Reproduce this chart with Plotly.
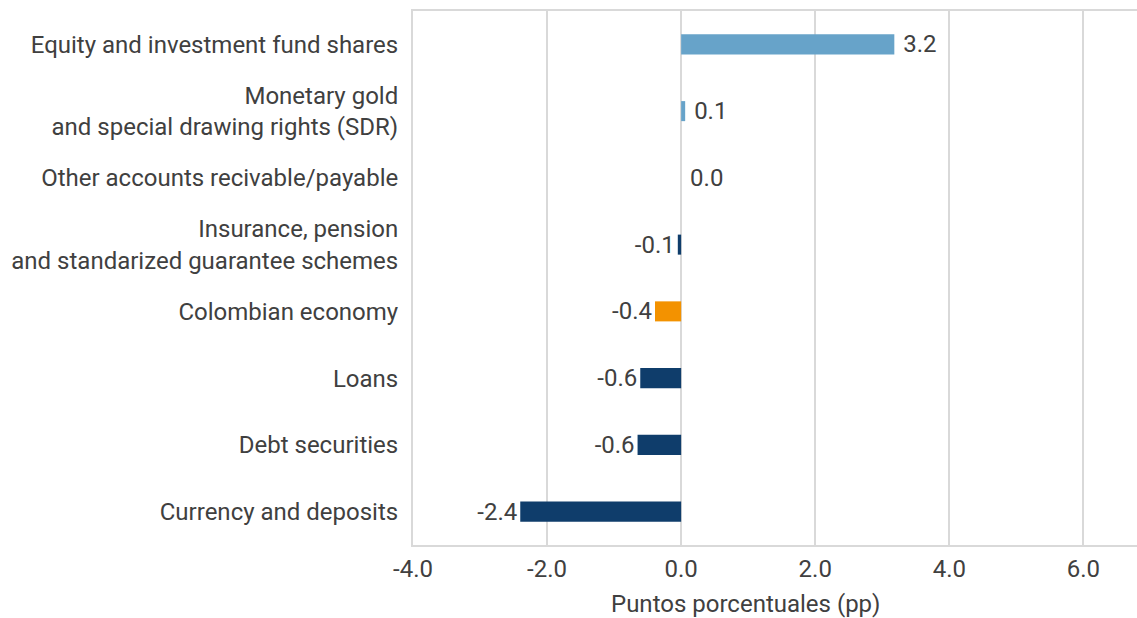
import plotly.graph_objects as go

categories = [
    "Equity and investment fund shares",
    "Monetary gold<br>and special drawing rights (SDR)",
    "Other accounts recivable/payable",
    "Insurance, pension<br>and standarized guarantee schemes",
    "Colombian economy",
    "Loans",
    "Debt securities",
    "Currency and deposits",
]
values = [3.18, 0.06, 0.0, -0.05, -0.39, -0.61, -0.65, -2.40]
labels = ["3.2", "0.1", "0.0", "-0.1", "-0.4", "-0.6", "-0.6", "-2.4"]
colors = ["#67A3C9", "#67A3C9", "#67A3C9", "#0F3D6B", "#F39200", "#0F3D6B", "#0F3D6B", "#0F3D6B"]
tick_vals = [-4, -2, 0, 2, 4, 6]
tick_text = ["-4.0", "-2.0", "0.0", "2.0", "4.0", "6.0"]
x_title = "Puntos porcentuales (pp)"

font_color = "#404040"
FS = 24

# pad labels of non-negative bars a bit further from the bar end
shown = [("\u00a0" + t) if v >= 0 else t for v, t in zip(values, labels)]

fig = go.Figure(go.Bar(
    x=values, y=categories, orientation="h",
    marker=dict(color=colors, line=dict(width=0)),
    width=0.3,
    text=shown, textposition="outside", cliponaxis=False,
    constraintext="none",
    textfont=dict(size=FS, color=font_color, family="Roboto"),
))

fig.update_layout(
    width=1137, height=618,
    margin=dict(l=413, r=0, t=11, b=73),
    paper_bgcolor="white", plot_bgcolor="white",
    font=dict(family="Roboto", size=FS, color=font_color),
    showlegend=False,
)
fig.add_annotation(
    text=x_title, xref="paper", yref="paper", x=0.4586, y=0,
    xanchor="center", yanchor="middle", yshift=-59, showarrow=False,
    font=dict(size=FS, color=font_color, family="Roboto"),
)
fig.update_xaxes(
    range=[-4, 6.8], tickvals=tick_vals, ticktext=tick_text,
    showgrid=True, gridcolor="#D9D9D9", gridwidth=2,
    zeroline=True, zerolinecolor="#D9D9D9", zerolinewidth=2,
    showline=True, linecolor="#D9D9D9", linewidth=2, mirror=True,
    ticks="", automargin=False, ticklabelstandoff=1,
    tickfont=dict(size=FS),
)
fig.update_yaxes(
    autorange="reversed", showgrid=False, automargin=False,
    showline=True, linecolor="#D9D9D9", linewidth=2, mirror=False,
    ticks="", ticklen=0, ticklabelstandoff=8, tickfont=dict(size=FS),
)

fig.write_html(
    "out.html",
    config={"displayModeBar": False},
    post_script="document.body.style.margin='0';document.body.style.overflow='hidden';",
)
